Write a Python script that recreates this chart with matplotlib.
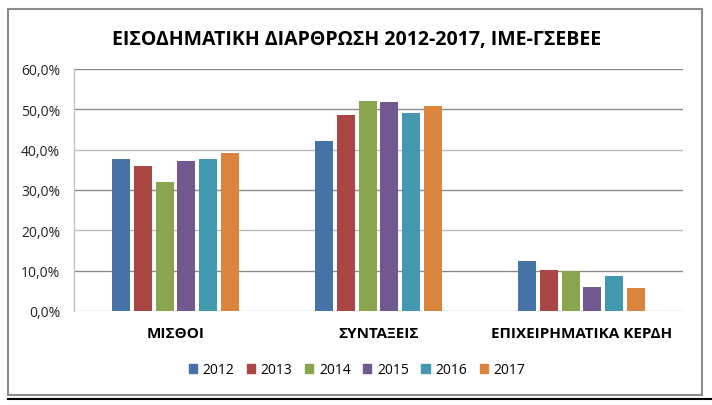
import matplotlib
matplotlib.use("Agg")
import matplotlib.pyplot as plt
from matplotlib.patches import Rectangle
from matplotlib.lines import Line2D
import numpy as np

categories = ["ΜΙΣΘΟΙ", "ΣΥΝΤΑΞΕΙΣ", "ΕΠΙΧΕΙΡΗΜΑΤΙΚΑ ΚΕΡΔΗ"]
years = ["2012", "2013", "2014", "2015", "2016", "2017"]
values = {
    "2012": [37.6, 42.2, 12.4],
    "2013": [35.9, 48.6, 10.2],
    "2014": [32.0, 52.1, 9.9],
    "2015": [37.3, 51.9, 6.0],
    "2016": [37.7, 49.1, 8.7],
    "2017": [39.2, 50.9, 5.8],
}
colors = ["#4572A7", "#AA4643", "#89A54E", "#71588F", "#4198AF", "#DB843D"]
yticks = [0, 10, 20, 30, 40, 50, 60]
ytick_labels = ["0,0%", "10,0%", "20,0%", "30,0%", "40,0%", "50,0%", "60,0%"]
title = "ΕΙΣΟΔΗΜΑΤΙΚΗ ΔΙΑΡΘΡΩΣΗ 2012-2017, ΙΜΕ-ΓΣΕΒΕΕ"

plt.rcParams['font.family'] = ['Open Sans', 'DejaVu Sans']

fig = plt.figure(figsize=(7.12, 4.06), dpi=100)
W, H = 712, 406

# outer chart border
fig.add_artist(Rectangle((8 / W, 1 - 396 / H), (702 - 8) / W, (396 - 10) / H,
                         transform=fig.transFigure, fill=False,
                         edgecolor="#8c8c8c", linewidth=1.5))
fig.add_artist(Line2D([8 / W, 1.0], [1 - 399.5 / H, 1 - 399.5 / H],
                      transform=fig.transFigure, color="black", linewidth=1.5))

ax = fig.add_axes([74 / W, 1 - 312 / H, (683 - 74) / W, (312 - 70) / H])

x = np.arange(len(categories))
bw = 0.088
step = 0.107
for i, yr in enumerate(years):
    ax.bar(x + (i - 2.5) * step, values[yr], width=bw, color=colors[i],
           label=yr, zorder=3)

ax.set_xlim(-0.5, len(categories) - 0.5)
ax.set_ylim(0, 60)
ax.set_yticks(yticks)
ax.set_yticklabels(ytick_labels, fontsize=10, color="#222222")
ax.set_xticks(x)
ax.set_xticklabels(categories, fontsize=11, fontweight="bold")
ax.tick_params(axis="both", length=0)
ax.tick_params(axis="x", pad=11)
ax.tick_params(axis="y", pad=10)

grid_colors = ["#bdbdbd", "#8a8a8a", "#bdbdbd", "#8a8a8a", "#bdbdbd", "#8a8a8a", "#8a8a8a"]
for yv, gc in zip(yticks, grid_colors):
    ax.axhline(yv, color=gc, linewidth=1.0, zorder=1)

for s in ["top", "right", "bottom"]:
    ax.spines[s].set_visible(False)
ax.spines["left"].set_color("#b8c4d4")
ax.spines["left"].set_linewidth(1.0)

fig.text(357 / W, 1 - 40 / H, title, ha="center", va="center",
         fontsize=14, fontweight="bold")

handles = [Rectangle((0, 0), 1, 1, color=c) for c in colors]
fig.legend(handles, years, loc="center", bbox_to_anchor=(357 / W, 1 - 371 / H),
           ncol=6, frameon=False, fontsize=10, handlelength=0.6, handleheight=0.6,
           handletextpad=0.4, columnspacing=0.9)

fig.savefig("out.png", dpi=100)
